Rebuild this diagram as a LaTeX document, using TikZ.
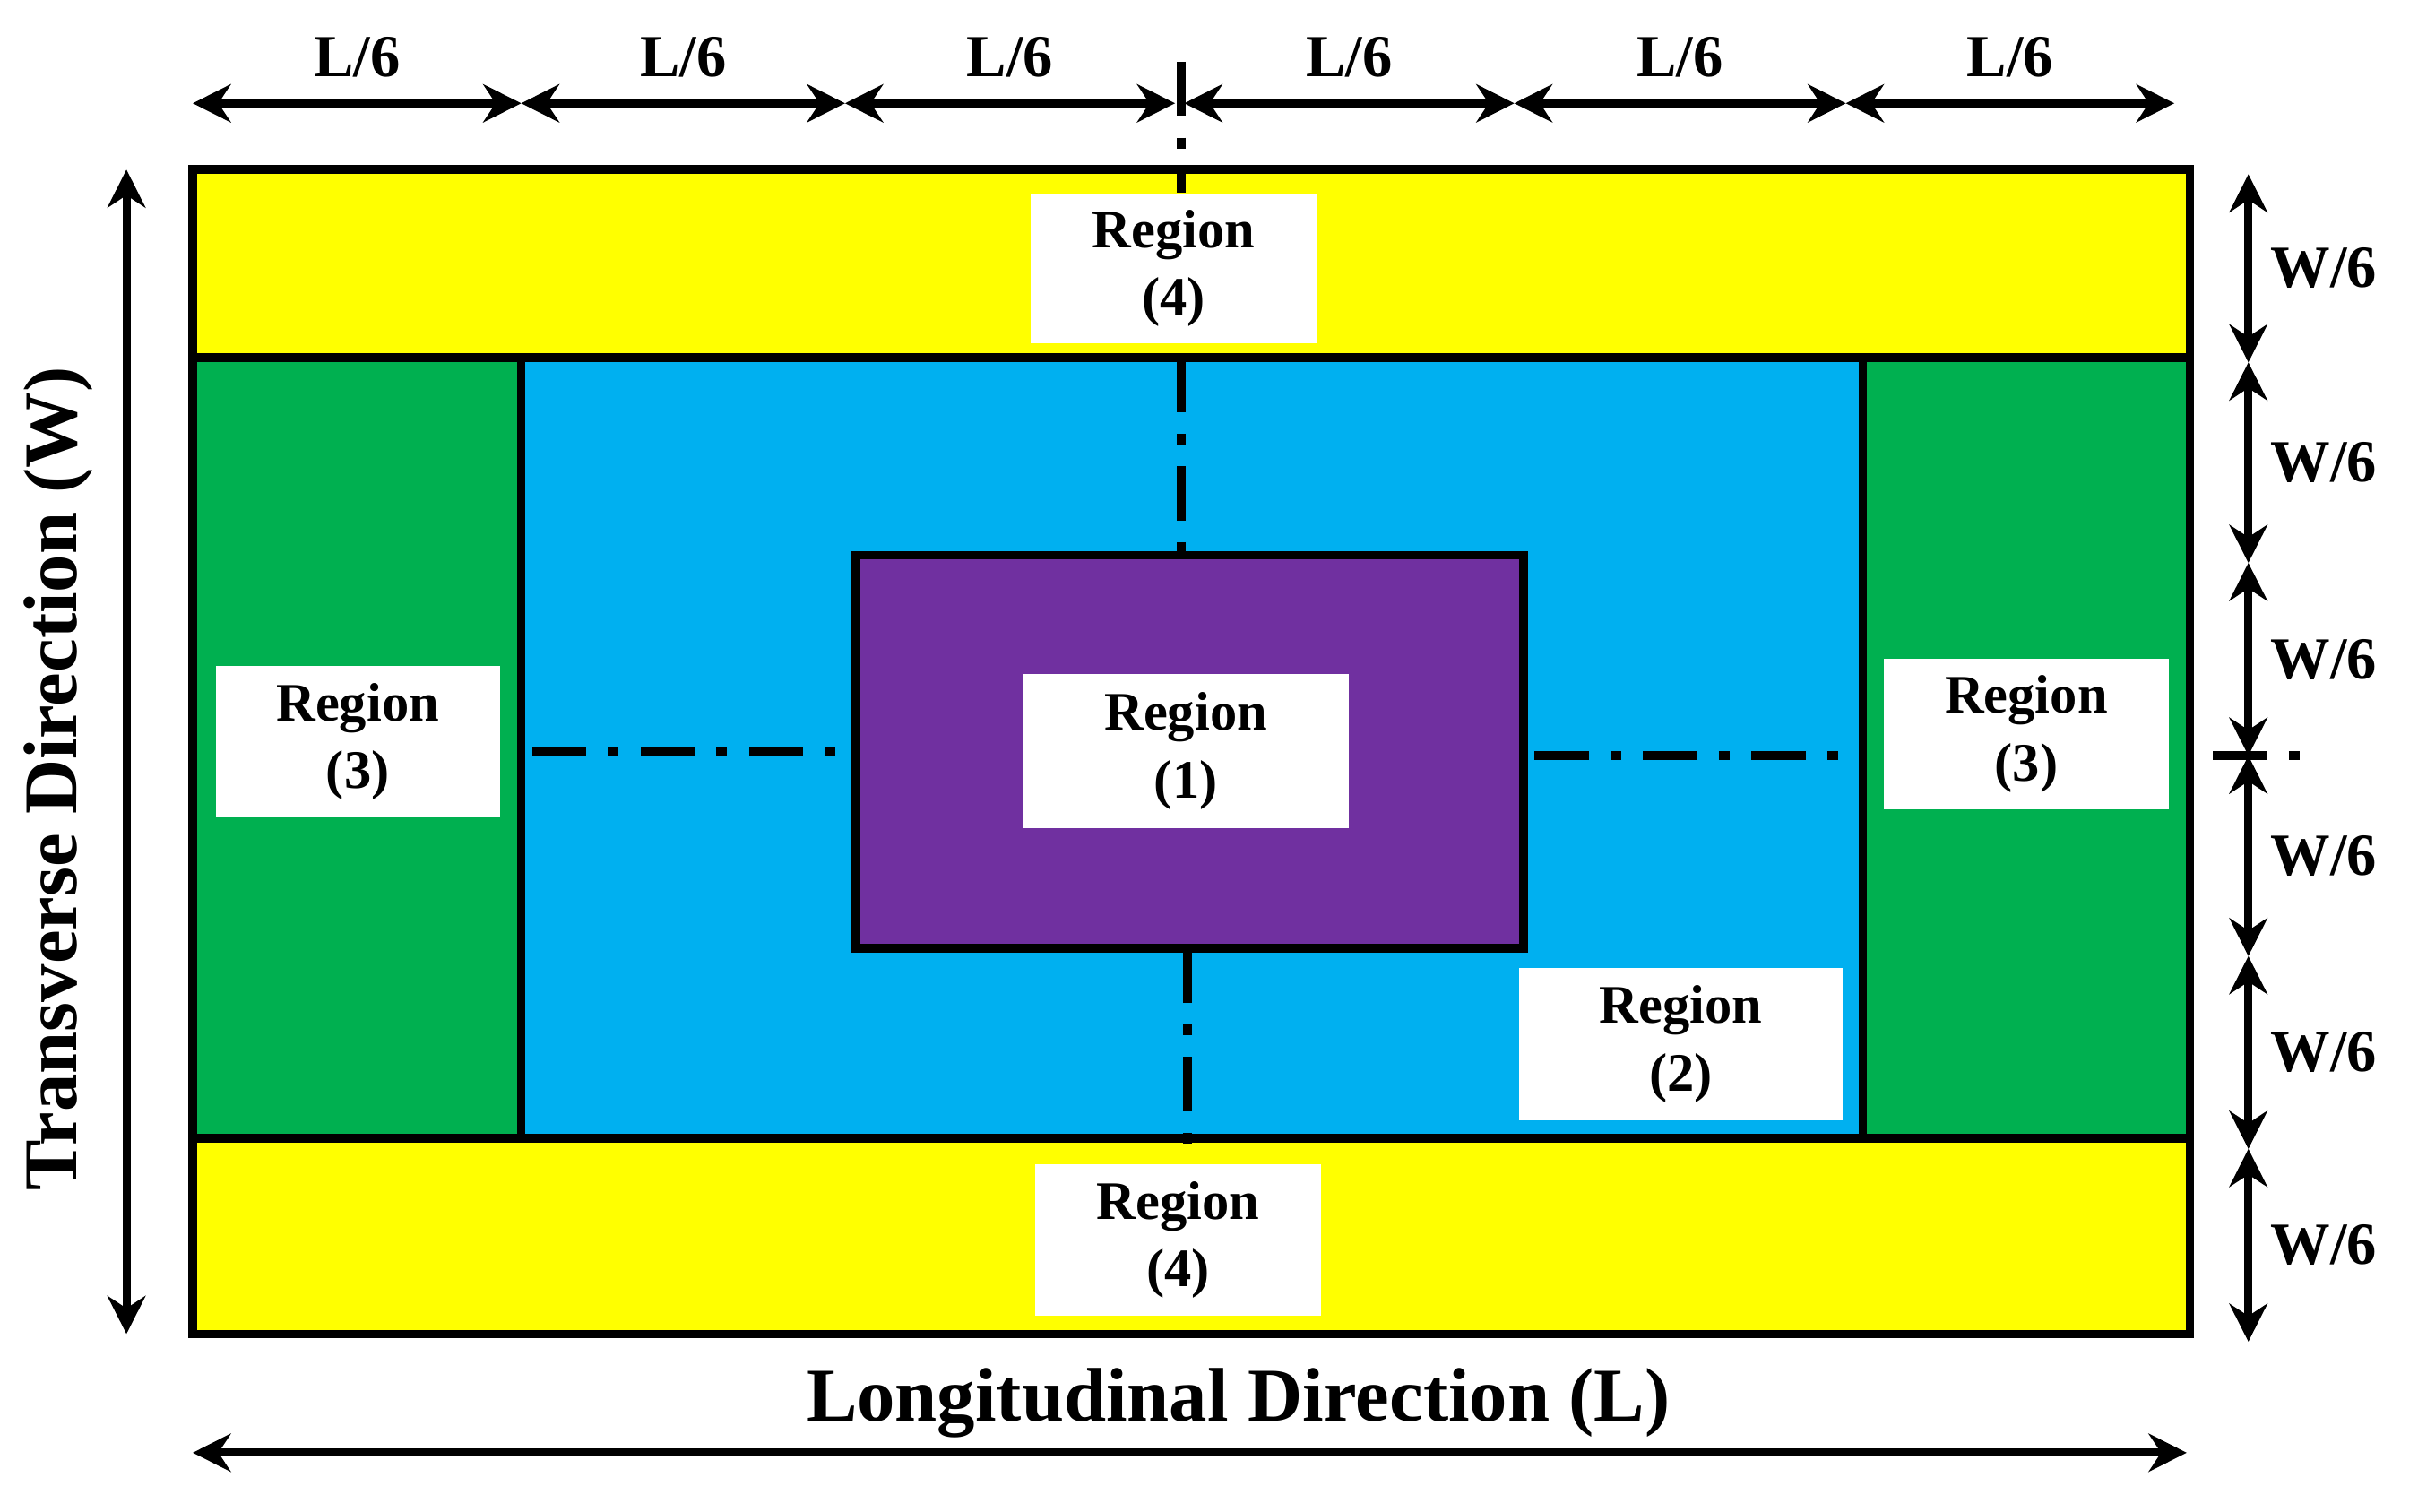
\documentclass[tikz,border=0pt]{standalone}
\usepackage{fontspec}
\setmainfont{Liberation Serif}
\usetikzlibrary{arrows.meta}
\definecolor{cy}{HTML}{FFFF00}
\definecolor{cg}{HTML}{00B050}
\definecolor{cb}{HTML}{00B0F0}
\definecolor{cp}{HTML}{7030A0}
\begin{document}
\begin{tikzpicture}[x=0.01cm,y=-0.01cm,
 box/.style={draw=black,line width=1.6pt},
 lab/.style={fill=white,inner sep=0pt,align=center,font=\fontsize{10}{12.5}\selectfont\bfseries},
 dim/.style={line width=1.5pt,{Stealth[length=7pt,width=7pt]}-{Stealth[length=7pt,width=7pt]}},
 dl/.style={font=\fontsize{11}{13}\selectfont\bfseries},
 dd/.style={line width=1.6pt,dash pattern=on 10pt off 4pt on 2pt off 4pt}]
\useasboundingbox (0,0) rectangle (1568,980);
\fill[cy] (125,110) rectangle (1420,232);
\fill[cy] (125,738) rectangle (1420,865);
\fill[cg] (125,232) rectangle (338,738);
\fill[cg] (1208,232) rectangle (1420,738);
\fill[cb] (338,232) rectangle (1208,738);
\fill[cp] (555,360) rectangle (988,615);
\draw[box] (555,360) rectangle (988,615);
\draw[box] (338,232) -- (338,738) (1208,232) -- (1208,738);
\draw[box] (125,232) -- (1420,232) (125,738) -- (1420,738);
\draw[box] (125,110) rectangle (1420,865);
% dash-dot lines
\draw[dd] (766,40) -- (766,125);
\draw[dd] (766,232) -- (766,360);
\draw[dd] (770,615) -- (770,755);
\draw[dd] (345,487) -- (555,487);
\draw[dd] (995,490) -- (1208,490);
\draw[dd] (1435,490) -- (1495,490);
% labels
\node[lab,minimum width=1.85cm,minimum height=0.97cm] (r4t) at (761,174) {Region\\(4)};
\node[lab,minimum width=1.84cm,minimum height=0.98cm] (r3l) at (232,481) {Region\\(3)};
\node[lab,minimum width=2.11cm,minimum height=1.00cm] (r1) at (769,487) {Region\\(1)};
\node[lab,minimum width=1.85cm,minimum height=0.98cm] (r3r) at (1314,476) {Region\\(3)};
\node[lab,minimum width=2.10cm,minimum height=0.99cm] (r2) at (1090,677) {Region\\(2)};
\node[lab,minimum width=1.85cm,minimum height=0.98cm] (r4b) at (764,804) {Region\\(4)};
% top dims
\foreach \a/\b in {125/338,338/548,548/762,768/982,982/1197,1197/1410}{
 \coordinate (ta\a) at (\a,67); \coordinate (tb\a) at (\b,67);
 \draw[dim] (ta\a) -- (tb\a);
 \node[dl] at ({(\a+\b)/2},37) {L/6};}
% right dims
\foreach \a/\b in {113/235,235/365,365/490,490/620,620/745,745/870}{
 \coordinate (ra\a) at (1458,\a); \coordinate (rb\a) at (1458,\b);
 \draw[dim] (ra\a) -- (rb\a);
 \node[dl] at (1507,{(\a+\b)/2}) {W/6};}
\coordinate (la) at (82,110); \coordinate (lb) at (82,865);
\draw[dim] (la) -- (lb);
\node[dl,rotate=90,font=\fontsize{14}{16}\selectfont\bfseries] at (38,505) {Transverse Direction (W)};
\coordinate (ba) at (125,942); \coordinate (bb) at (1418,942);
\draw[dim] (ba) -- (bb);
\node[font=\fontsize{14}{16}\selectfont\bfseries] at (803,910) {Longitudinal Direction (L)};
\end{tikzpicture}
\end{document}
